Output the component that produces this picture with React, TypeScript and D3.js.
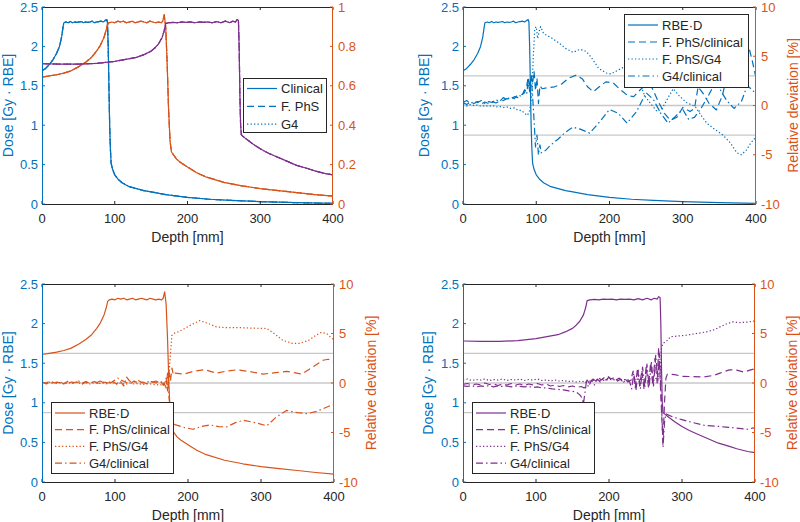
import React from 'react';
import * as d3 from 'd3';

type Pt = [number, number];

const BLUE = '#0072BD';
const ORANGE = '#D95319';
const PURPLE = '#7E2F8E';
const AX = '#262626';
const GREY = '#C8C8C8';
const FONT = '"Liberation Sans", Arial, Helvetica, sans-serif';

// ---- tick values ----
const depthTicks = [0, 100, 200, 300, 400];
const doseTicks = [0, 0.5, 1, 1.5, 2, 2.5];
const fracTicks = [0, 0.2, 0.4, 0.6, 0.8, 1];
const devTicks = [-10, -5, 0, 5, 10];
const devRefLines = [-3, 0, 3];

// ---- dose curves (depth mm, dose Gy·RBE) ----
const blueDose: Pt[] = [
  [0, 1.69], [5, 1.72], [10, 1.77], [15, 1.83], [20, 1.91], [24, 2.0], [27, 2.12], [29, 2.25], [30, 2.3],
  [33, 2.31], [36, 2.3], [39, 2.315], [42, 2.3], [45, 2.31], [48, 2.305], [51, 2.31], [54, 2.315], [57, 2.3],
  [60, 2.31], [63, 2.305], [66, 2.31], [69, 2.32], [72, 2.3], [75, 2.31], [78, 2.315], [81, 2.32], [84, 2.31],
  [87, 2.33], [89, 2.34], [90, 2.31], [91, 2.0], [92, 1.5], [93, 1.0], [94, 0.7], [95, 0.52], [97, 0.44],
  [100, 0.37], [105, 0.31], [110, 0.27], [120, 0.22], [130, 0.195], [140, 0.17], [150, 0.155], [170, 0.12],
  [200, 0.084], [230, 0.06], [260, 0.045], [300, 0.03], [350, 0.017], [400, 0.008],
];

const orangeDose: Pt[] = [
  [0, 1.61], [10, 1.625], [20, 1.64], [30, 1.66], [40, 1.69], [50, 1.74], [60, 1.8], [68, 1.86], [75, 1.94],
  [80, 2.01], [85, 2.11], [88, 2.2], [90, 2.28], [92, 2.3], [96, 2.31], [100, 2.3], [104, 2.32], [108, 2.31],
  [112, 2.32], [116, 2.3], [120, 2.31], [124, 2.32], [128, 2.3], [132, 2.31], [136, 2.32], [140, 2.31],
  [144, 2.3], [148, 2.32], [152, 2.31], [156, 2.3], [160, 2.31], [164, 2.3], [166, 2.32], [168, 2.4],
  [170, 2.25], [172, 1.8], [174, 1.2], [176, 0.8], [178, 0.66], [185, 0.57], [190, 0.53], [200, 0.47],
  [212, 0.4], [225, 0.345], [250, 0.275], [275, 0.23], [300, 0.195], [325, 0.17], [350, 0.145], [375, 0.12],
  [400, 0.1],
];

const purpleDose: Pt[] = [
  [0, 1.78], [25, 1.775], [50, 1.775], [75, 1.785], [100, 1.81], [115, 1.835], [130, 1.86], [140, 1.895],
  [150, 1.94], [155, 1.98], [160, 2.03], [165, 2.11], [168, 2.2], [170, 2.29], [174, 2.3], [180, 2.305],
  [186, 2.3], [192, 2.31], [198, 2.305], [204, 2.31], [210, 2.3], [216, 2.31], [222, 2.305], [228, 2.31],
  [234, 2.3], [240, 2.315], [246, 2.3], [252, 2.32], [258, 2.3], [262, 2.32], [266, 2.31], [268, 2.34],
  [270, 2.33], [271, 2.0], [272, 1.4], [273, 1.0], [274, 0.88], [276, 0.86], [280, 0.83], [290, 0.76],
  [300, 0.7], [310, 0.65], [320, 0.61], [335, 0.55], [350, 0.49], [365, 0.45], [375, 0.42], [390, 0.385],
  [400, 0.37],
];

// ---- relative deviations [%], blue field ----
const blueFphsClin: Pt[] = [
  [0, 0.3], [5, 0.1], [10, 0.35], [15, 0.2], [20, 0.4], [25, 0.15], [30, 0.35], [35, 0.2], [40, 0.4],
  [45, 0.25], [50, 0.45], [55, 0.5], [60, 0.7], [65, 0.6], [70, 0.9], [75, 0.8], [80, 1.1], [84, 1.3],
  [87, 2.0], [89, 2.9], [91, 1.8], [93, 3.1], [95, 2.2], [97, 3.5], [99, 1.5], [101, 2.8], [103, 0.2],
  [105, 2.0], [108, 1.7], [115, 1.8], [125, 1.9], [135, 2.2], [145, 2.8], [155, 3.1], [163, 2.7], [170, 1.9],
  [178, 1.4], [186, 1.9], [195, 2.4], [205, 2.3], [215, 1.6], [225, 1.0], [233, 0.9], [242, 1.6], [250, 2.1],
  [258, 1.8], [266, 0.5], [275, -0.8], [283, -1.5], [292, -1.2], [300, -0.2], [310, -0.6], [316, -0.3],
  [321, 1.9], [328, 1.2], [336, 0.2], [346, -0.45], [354, 1.0], [362, 3.5], [370, 2.5], [378, 3.3],
  [385, 4.8], [390, 6.0], [395, 4.5], [400, 2.8],
];

const blueFphsG4: Pt[] = [
  [0, 0.1], [5, -0.05], [10, 0.1], [15, 0], [20, 0.05], [25, -0.1], [30, 0], [35, -0.1], [40, 0], [45, -0.15],
  [50, -0.1], [55, -0.2], [60, -0.15], [65, -0.3], [70, -0.25], [75, -0.5], [80, -0.5], [84, -0.8], [88, -1.0],
  [91, -0.5], [94, 1.0], [96, 5.0], [98, 7.8], [100, 8.0], [102, 6.8], [104, 7.5], [106, 8.0], [110, 7.3],
  [120, 6.9], [130, 6.4], [140, 5.8], [150, 5.4], [160, 5.7], [168, 5.5], [175, 4.9], [185, 3.8], [195, 3.3],
  [202, 3.2], [212, 3.6], [222, 4.0], [232, 3.7], [240, 2.5], [248, 1.0], [256, 0.2], [265, -0.6], [272, -0.3],
  [280, 0.8], [287, 1.7], [295, 1.0], [305, 0.3], [317, -0.1], [325, -1.0], [333, -1.8], [345, -2.5],
  [355, -3.0], [365, -3.8], [374, -4.8], [380, -5.0], [387, -4.5], [393, -3.8], [400, -3.2],
];

const blueG4Clin: Pt[] = [
  [0, 0.3], [5, 0.5], [10, 0.2], [15, 0.4], [20, 0.3], [25, 0.5], [30, 0.2], [35, 0.4], [40, 0.3], [45, 0.6],
  [50, 0.4], [55, 0.8], [60, 0.6], [65, 0.9], [70, 0.7], [75, 1.1], [80, 0.9], [84, 1.6], [87, 1.2], [89, 2.6],
  [91, 1.4], [93, 2.9], [95, 1.0], [97, -1.5], [99, -4.2], [101, -3.0], [103, -5.0], [105, -4.0], [107, -4.8],
  [112, -4.6], [120, -4.0], [130, -3.4], [140, -2.7], [150, -2.2], [160, -2.4], [173, -2.8], [185, -1.8],
  [200, -0.4], [212, -0.8], [224, -1.8], [237, -0.6], [250, 1.3], [260, 0.6], [270, -0.8], [280, -1.8],
  [290, -1.1], [300, -0.4], [308, -1.4], [316, -1.2], [325, -0.3], [335, 1.0], [345, 2.4], [352, 1.5],
  [360, 0.5], [370, -0.3], [380, 0.4], [388, 2.0], [395, 1.6], [400, 1.1],
];

// ---- relative deviations [%], orange field ----
const orangeFphsClin: Pt[] = [
  [0, 0.1], [6, -0.1], [12, 0.15], [18, 0], [24, 0.1], [30, -0.1], [36, 0.2], [42, 0], [48, 0.1], [54, -0.15],
  [60, 0.1], [66, 0], [72, 0.15], [78, -0.1], [84, 0.1], [90, 0], [96, 0.2], [102, -0.1], [108, 0.3],
  [114, 0.1], [120, -0.1], [126, 0.2], [132, 0], [138, 0.1], [144, -0.1], [150, 0.15], [156, 0], [162, 0.2],
  [166, -0.2], [170, 0.5], [172, -0.8], [174, 1.2], [176, 0.2], [178, 1.5], [180, 0.8], [182, 1.0],
  [195, 0.9], [207, 1.17], [223, 1.35], [239, 1.0], [253, 1.2], [267, 1.33], [285, 1.15], [303, 0.9],
  [320, 1.05], [335, 1.17], [345, 1.05], [356, 0.9], [372, 1.67], [385, 2.3], [392, 2.4], [400, 2.1],
];

const orangeFphsG4: Pt[] = [
  [0, 0.05], [6, 0], [12, 0.1], [18, -0.05], [24, 0.05], [30, -0.1], [36, 0.05], [42, -0.05], [48, 0.1],
  [54, -0.1], [60, 0], [66, -0.1], [72, 0.05], [78, -0.05], [84, 0], [90, -0.1], [96, 0.05], [102, -0.1],
  [108, 0], [114, -0.15], [120, 0], [126, -0.1], [132, -0.05], [138, -0.15], [144, -0.05], [150, -0.1],
  [156, -0.2], [162, -0.15], [166, -0.3], [170, 0.3], [172, -0.5], [174, 1.0], [176, 3.0], [178, 4.8],
  [180, 5.0], [188, 5.2], [200, 5.7], [216, 6.3], [228, 6.0], [239, 5.67], [250, 5.6], [267, 5.6],
  [285, 5.55], [308, 5.5], [318, 5.0], [330, 4.3], [343, 4.0], [353, 4.0], [365, 4.3], [375, 4.8],
  [382, 5.1], [390, 5.0], [397, 4.5], [400, 4.4],
];

const orangeG4Clin: Pt[] = [
  [0, 0.1], [5, 0], [10, 0.15], [15, -0.05], [20, 0.1], [25, 0], [30, 0.15], [35, -0.05], [40, 0.1],
  [45, 0.05], [50, 0.2], [55, 0], [60, 0.15], [65, -0.05], [70, 0.1], [75, 0.05], [80, 0.2], [85, 0],
  [90, 0.15], [95, 0.05], [100, 0.3], [104, 0.5], [108, 0.1], [112, -0.3], [116, 0.6], [120, 0.2],
  [126, 0.1], [132, 0.25], [138, 0], [144, 0.15], [150, 0.05], [156, 0.2], [162, 0], [166, 0.2],
  [170, -0.5], [172, 1.0], [174, -1.5], [176, -2.8], [178, -3.8], [182, -4.2], [195, -4.5], [207, -4.67],
  [218, -4.4], [230, -4.23], [242, -4.4], [253, -4.43], [265, -4.0], [276, -3.77], [292, -4.0],
  [308, -4.33], [320, -3.5], [335, -2.77], [350, -3.0], [363, -3.1], [375, -2.9], [388, -2.5], [399, -2.17],
  [400, -2.1],
];

// ---- relative deviations [%], purple field ----
const purpleFphsClin: Pt[] = [
  [0, -0.15], [6, -0.05], [12, -0.2], [18, -0.1], [24, -0.2], [30, 0], [36, -0.15], [42, -0.1], [48, -0.25],
  [54, -0.1], [60, -0.2], [66, -0.05], [72, -0.2], [78, -0.1], [84, -0.25], [90, -0.1], [96, -0.2],
  [102, -0.05], [108, -0.2], [114, -0.1], [120, -0.3], [126, -0.2], [132, -0.35], [138, -0.25], [144, -0.4],
  [150, -0.3], [156, -0.45], [162, -0.35], [166, -0.5], [168, 0], [170, 0.3], [174, -0.1], [178, 0.4],
  [182, 0.2], [186, 0.5], [190, 0.3], [194, 0.6], [198, 0.7], [202, 0.4], [206, 0.5], [210, 0.3], [214, 0.5],
  [218, 0.2], [222, 0.4], [226, 0.1], [230, 0.3], [233, 1.2], [236, -0.5], [239, 1.5], [242, -0.3],
  [245, 1.3], [248, -0.6], [251, 1.7], [254, -0.4], [257, 2.0], [260, -0.2], [263, 2.5], [266, 0],
  [268, 3.6], [270, 0.5], [272, -3.0], [274, -6.0], [276, -2.0], [278, 0.5], [280, 0.9], [290, 0.85],
  [300, 0.67], [315, 0.65], [330, 0.6], [345, 0.8], [352, 1.0], [365, 1.33], [375, 1.3], [385, 1.1],
  [393, 1.3], [400, 1.43],
];

const purpleFphsG4: Pt[] = [
  [0, 0.3], [6, 0.4], [12, 0.25], [18, 0.35], [24, 0.3], [30, 0.4], [36, 0.25], [42, 0.35], [48, 0.3],
  [54, 0.4], [60, 0.25], [66, 0.35], [72, 0.3], [78, 0.4], [84, 0.25], [90, 0.35], [96, 0.3], [102, 0.4],
  [108, 0.25], [114, 0.3], [120, 0.2], [126, 0.3], [132, 0.2], [138, 0.25], [144, 0.15], [150, 0.2],
  [156, 0.1], [162, 0.2], [168, 0.1], [174, 0.2], [180, 0.3], [190, 0.25], [200, 0.35], [210, 0.3],
  [220, 0.35], [230, 0.3], [240, 0.4], [250, 0.3], [260, 0.4], [266, 0.5], [270, 1.0], [272, 3.6],
  [274, 4.0], [280, 4.3], [284, 4.67], [295, 4.75], [306, 4.83], [320, 5.0], [334, 5.17], [345, 5.4],
  [352, 5.67], [362, 6.0], [370, 6.17], [380, 6.1], [390, 6.15], [398, 6.25], [400, 6.2],
];

const purpleG4Clin: Pt[] = [
  [0, -0.3], [6, -0.35], [12, -0.25], [18, -0.4], [24, -0.3], [30, -0.35], [36, -0.25], [42, -0.4],
  [48, -0.3], [54, -0.35], [60, -0.3], [66, -0.4], [72, -0.3], [78, -0.35], [84, -0.4], [90, -0.35],
  [96, -0.45], [102, -0.4], [108, -0.5], [115, -0.5], [122, -0.6], [130, -0.65], [138, -0.7], [145, -0.8],
  [150, -0.85], [155, -0.9], [160, -1.2], [163, -1.5], [165, -2.1], [167, -1.0], [169, 0.1], [172, -0.4],
  [176, 0.3], [180, -0.2], [184, 0.4], [188, 0.1], [192, 0.5], [196, 0.3], [200, 0.6], [204, 0.3],
  [208, 0.5], [212, 0.2], [216, 0.4], [220, 0.1], [224, 0.3], [228, 0.2], [231, -0.6], [234, 1.0],
  [237, -0.7], [240, 1.3], [243, -0.6], [246, 1.6], [249, -0.5], [252, 1.9], [255, -0.4], [258, 2.2],
  [261, -0.3], [264, 2.8], [267, 0.2], [269, 3.0], [271, -0.5], [272, -2.0], [274, -6.5], [276, -4.0],
  [278, -3.1], [280, -3.2], [290, -3.5], [300, -3.7], [315, -4.0], [330, -4.27], [345, -4.35], [360, -4.45],
  [375, -4.55], [390, -4.67], [400, -4.5],
];

// ---- legends ----
const legendP1 = ['Clinical', 'F. PhS', 'G4'];
const legendDev = ['RBE\u00B7D', 'F. PhS/clinical', 'F. PhS/G4', 'G4/clinical'];

const SOLID = undefined;
const DASHED = '7,4';
const DOTTED = '1.3,2.2';
const DASHDOT = '7,3,1.5,3';
const styles = [SOLID, DASHED, DOTTED, DASHDOT];

type Series = { data: Pt[]; color: string; dash?: string; axis: 'left' | 'right' };
type PanelCfg = {
  id: string;
  l: number; r: number; t: number; b: number;
  rDomain: [number, number];
  rTicks: number[];
  rLabel?: string;
  refLines?: number[];
  series: Series[];
  leftLabelX: number;
  legend: { x: number; y: number; w: number; h: number; labels: string[]; color: string; row0: number; step: number };
};

const panels: PanelCfg[] = [
  {
    id: 'p1', l: 42, r: 333, t: 7, b: 204, rDomain: [0, 1], rTicks: fracTicks, leftLabelX: 8,
    series: [
      { data: blueDose, color: BLUE, dash: DOTTED, axis: 'left' },
      { data: blueDose, color: BLUE, dash: DASHED, axis: 'left' },
      { data: blueDose, color: BLUE, dash: SOLID, axis: 'left' },
      { data: orangeDose, color: ORANGE, dash: DOTTED, axis: 'left' },
      { data: orangeDose, color: ORANGE, dash: DASHED, axis: 'left' },
      { data: orangeDose, color: ORANGE, dash: SOLID, axis: 'left' },
      { data: purpleDose, color: PURPLE, dash: DOTTED, axis: 'left' },
      { data: purpleDose, color: PURPLE, dash: DASHED, axis: 'left' },
      { data: purpleDose, color: PURPLE, dash: SOLID, axis: 'left' },
    ],
    legend: { x: 243, y: 78, w: 83, h: 54, labels: legendP1, color: BLUE, row0: 10.5, step: 17.8 },
  },
  {
    id: 'p2', l: 463, r: 756, t: 7, b: 204, rDomain: [-10, 10], rTicks: devTicks,
    rLabel: 'Relative deviation [%]', refLines: devRefLines, leftLabelX: 424,
    series: [
      { data: blueDose, color: BLUE, dash: SOLID, axis: 'left' },
      { data: blueFphsClin, color: BLUE, dash: DASHED, axis: 'right' },
      { data: blueFphsG4, color: BLUE, dash: DOTTED, axis: 'right' },
      { data: blueG4Clin, color: BLUE, dash: DASHDOT, axis: 'right' },
    ],
    legend: { x: 624, y: 14, w: 124, h: 73, labels: legendDev, color: BLUE, row0: 11, step: 17 },
  },
  {
    id: 'p3', l: 42, r: 334, t: 284, b: 482, rDomain: [-10, 10], rTicks: devTicks,
    rLabel: 'Relative deviation [%]', refLines: devRefLines, leftLabelX: 8,
    series: [
      { data: orangeDose, color: ORANGE, dash: SOLID, axis: 'left' },
      { data: orangeFphsClin, color: ORANGE, dash: DASHED, axis: 'right' },
      { data: orangeFphsG4, color: ORANGE, dash: DOTTED, axis: 'right' },
      { data: orangeG4Clin, color: ORANGE, dash: DASHDOT, axis: 'right' },
    ],
    legend: { x: 51, y: 402, w: 122, h: 71, labels: legendDev, color: ORANGE, row0: 11, step: 16.7 },
  },
  {
    id: 'p4', l: 463, r: 755, t: 284, b: 482, rDomain: [-10, 10], rTicks: devTicks,
    rLabel: 'Relative deviation [%]', refLines: devRefLines, leftLabelX: 428,
    series: [
      { data: purpleDose, color: PURPLE, dash: SOLID, axis: 'left' },
      { data: purpleFphsClin, color: PURPLE, dash: DASHED, axis: 'right' },
      { data: purpleFphsG4, color: PURPLE, dash: DOTTED, axis: 'right' },
      { data: purpleG4Clin, color: PURPLE, dash: DASHDOT, axis: 'right' },
    ],
    legend: { x: 472, y: 402, w: 122, h: 71, labels: legendDev, color: PURPLE, row0: 11, step: 16.7 },
  },
];

const TICK = 3;

function Panel({ cfg }: { cfg: PanelCfg }) {
  const x = d3.scaleLinear().domain([0, 400]).range([cfg.l, cfg.r]);
  const yL = d3.scaleLinear().domain([0, 2.5]).range([cfg.b, cfg.t]);
  const yR = d3.scaleLinear().domain(cfg.rDomain).range([cfg.b, cfg.t]);
  const mk = (s: Series) =>
    d3.line<Pt>().x((d) => x(d[0])).y((d) => (s.axis === 'left' ? yL : yR)(d[1]))(s.data) || '';
  const cx = (cfg.l + cfg.r) / 2;
  const cy = (cfg.t + cfg.b) / 2;
  const lg = cfg.legend;
  return (
    <g>
      <defs>
        <clipPath id={`clip-${cfg.id}`}>
          <rect x={cfg.l} y={cfg.t} width={cfg.r - cfg.l} height={cfg.b - cfg.t} />
        </clipPath>
      </defs>
      <rect x={cfg.l} y={cfg.t} width={cfg.r - cfg.l} height={cfg.b - cfg.t} fill="#fff" />
      {(cfg.refLines || []).map((v) => (
        <line key={`ref${v}`} x1={cfg.l} x2={cfg.r} y1={yR(v)} y2={yR(v)} stroke={GREY} strokeWidth={1.3} />
      ))}
      <g clipPath={`url(#clip-${cfg.id})`}>
        {cfg.series.map((s, i) => (
          <path key={i} d={mk(s)} fill="none" stroke={s.color} strokeWidth={1.2}
            strokeDasharray={s.dash} strokeLinejoin="round" />
        ))}
      </g>
      {/* top & bottom axes */}
      <line x1={cfg.l} x2={cfg.r} y1={cfg.t + 0.5} y2={cfg.t + 0.5} stroke={AX} strokeWidth={1} />
      <line x1={cfg.l} x2={cfg.r} y1={cfg.b + 0.5} y2={cfg.b + 0.5} stroke={AX} strokeWidth={1} />
      {depthTicks.map((v) => (
        <g key={`xt${v}`}>
          <line x1={x(v)} x2={x(v)} y1={cfg.b} y2={cfg.b - TICK} stroke={AX} strokeWidth={1} />
          <line x1={x(v)} x2={x(v)} y1={cfg.t} y2={cfg.t + TICK} stroke={AX} strokeWidth={1} />
          <text x={x(v)} y={cfg.b + 14} fill={AX} fontSize={13} textAnchor="middle" dominantBaseline="central"
            fontFamily={FONT}>{v}</text>
        </g>
      ))}
      <text x={cx} y={cfg.b + 33} fill={AX} fontSize={14} textAnchor="middle" dominantBaseline="central"
        fontFamily={FONT}>Depth [mm]</text>
      {/* left axis */}
      <line x1={cfg.l + 0.5} x2={cfg.l + 0.5} y1={cfg.t} y2={cfg.b} stroke={BLUE} strokeWidth={1} />
      {doseTicks.map((v) => (
        <g key={`yl${v}`}>
          <line x1={cfg.l} x2={cfg.l + TICK} y1={yL(v)} y2={yL(v)} stroke={BLUE} strokeWidth={1} />
          <text x={cfg.l - 4} y={yL(v)} fill={BLUE} fontSize={13} textAnchor="end" dominantBaseline="central"
            fontFamily={FONT}>{v}</text>
        </g>
      ))}
      <text transform={`translate(${cfg.leftLabelX},${cy}) rotate(-90)`} fill={BLUE} fontSize={14}
        textAnchor="middle" dominantBaseline="central" fontFamily={FONT}>Dose [Gy · RBE]</text>
      {/* right axis */}
      <line x1={cfg.r - 0.5} x2={cfg.r - 0.5} y1={cfg.t} y2={cfg.b} stroke={ORANGE} strokeWidth={1} />
      {cfg.rTicks.map((v) => (
        <g key={`yr${v}`}>
          <line x1={cfg.r} x2={cfg.r - TICK} y1={yR(v)} y2={yR(v)} stroke={ORANGE} strokeWidth={1} />
          <text x={cfg.r + 5} y={yR(v)} fill={ORANGE} fontSize={13} textAnchor="start" dominantBaseline="central"
            fontFamily={FONT}>{v}</text>
        </g>
      ))}
      {cfg.rLabel && (
        <text transform={`translate(${cfg.r + 37},${cy}) rotate(-90)`} fill={ORANGE} fontSize={14}
          textAnchor="middle" dominantBaseline="central" fontFamily={FONT}>{cfg.rLabel}</text>
      )}
      {/* legend */}
      <rect x={lg.x + 0.5} y={lg.y + 0.5} width={lg.w} height={lg.h} fill="#fff" stroke={AX} strokeWidth={1} />
      {lg.labels.map((lab, i) => {
        const yy = lg.y + lg.row0 + i * lg.step;
        return (
          <g key={lab}>
            <line x1={lg.x + 4} x2={lg.x + 34} y1={yy} y2={yy} stroke={lg.color} strokeWidth={1.2}
              strokeDasharray={styles[i]} />
            <text x={lg.x + 38} y={yy} fill={AX} fontSize={13} dominantBaseline="central" fontFamily={FONT}>{lab}</text>
          </g>
        );
      })}
    </g>
  );
}

export default function App() {
  return (
    <svg width={800} height={522} viewBox="0 0 800 522"
      style={{ position: 'absolute', left: 0, top: 0, background: '#fff' }}>
      <rect x={0} y={0} width={800} height={522} fill="#fff" />
      {panels.map((p) => (
        <Panel key={p.id} cfg={p} />
      ))}
    </svg>
  );
}
